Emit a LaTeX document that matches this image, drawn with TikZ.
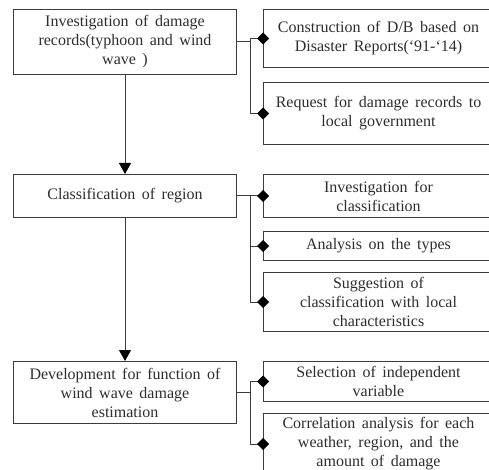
\documentclass[tikz,border=0pt]{standalone}
\usepackage{fontspec}
\setmainfont{Liberation Serif}
\usetikzlibrary{positioning,arrows.meta}
\definecolor{linegray}{RGB}{60,60,60}
\definecolor{textgray}{RGB}{45,45,45}
\newcommand\boxfont{\fontsize{16}{19}\selectfont\spaceskip=6.5pt plus 1pt minus 1pt\relax}

\begin{document}
\begin{tikzpicture}[x=1pt, y=-1pt,
    stage/.style={draw=linegray, line width=1pt, text=textgray, minimum width=223pt, inner sep=0pt, align=center, font=\boxfont},
    task/.style={stage, minimum width=230pt},
    flow/.style={draw=linegray, line width=1pt, -{Triangle[length=11pt,width=12pt,black]}},
    branch/.style={draw=linegray, line width=1pt, -{Diamond[length=12pt,width=12pt,black]}, shorten >=-6pt}
  ]
    \clip (0,0) rectangle (489,470);

    % Main stages
    \node[stage, minimum height=65pt, anchor=north west] at (13,9) (records) {Investigation of damage\\records(typhoon and wind\\wave )};
    \node[stage, minimum height=43pt, anchor=north] at ([yshift=-99pt]records.south) (region) {Classification of region};
    \node[stage, minimum height=62pt, anchor=north] at ([yshift=-143pt]region.south) (estimation) {Development for function of\\wind wave damage\\estimation};

    \draw[flow] (records) -- (region);
    \draw[flow] (region) -- (estimation);

    % Tasks of stage 1
    \node[task, minimum height=58pt, anchor=north west] at ([xshift=26pt]records.north east) (database) {Construction of D/B based on\\Disaster Reports(`91-`14)};
    \node[task, minimum height=62pt, anchor=north west] at ([yshift=-14pt]database.south west) (request) {Request for damage records to\\local government};

    % Tasks of stage 2
    \node[task, minimum height=43pt, anchor=north west] at ([xshift=26pt]region.north east) (survey) {Investigation for\\classification};
    \node[task, minimum height=29pt, anchor=north west] at ([yshift=-13pt]survey.south west) (types) {Analysis on the types};
    \node[task, minimum height=59pt, anchor=north west] at ([yshift=-11pt]types.south west) (suggestion) {Suggestion of\\classification with local\\characteristics};

    % Tasks of stage 3
    \node[task, minimum height=40pt, anchor=north west] at ([xshift=26pt]estimation.north east) (variable) {Selection of independent\\variable};
    \node[task, minimum height=61pt, anchor=north west] at ([yshift=-11pt]variable.south west) (correlation) {Correlation analysis for each\\weather, region, and the\\amount of damage};

    % Branches
    \coordinate (j1) at ([xshift=13pt]records.east);
    \coordinate (j2) at ([xshift=13pt]region.east);
    \coordinate (j3) at ([xshift=13pt]estimation.east);
    \draw[draw=linegray, line width=1pt] (records.east) -- (j1);
    \draw[draw=linegray, line width=1pt] (region.east) -- (j2);
    \draw[draw=linegray, line width=1pt] (estimation.east) -- (j3);
    \draw[branch] (j1) |- (database.west);
    \draw[branch] (j1) |- (request.west);
    \draw[branch] (j2) |- (survey.west);
    \draw[branch] (j2) |- (types.west);
    \draw[branch] (j2) |- (suggestion.west);
    \draw[branch] (j3) |- (variable.west);
    \draw[branch] (j3) |- (correlation.west);
\end{tikzpicture}
\end{document}
